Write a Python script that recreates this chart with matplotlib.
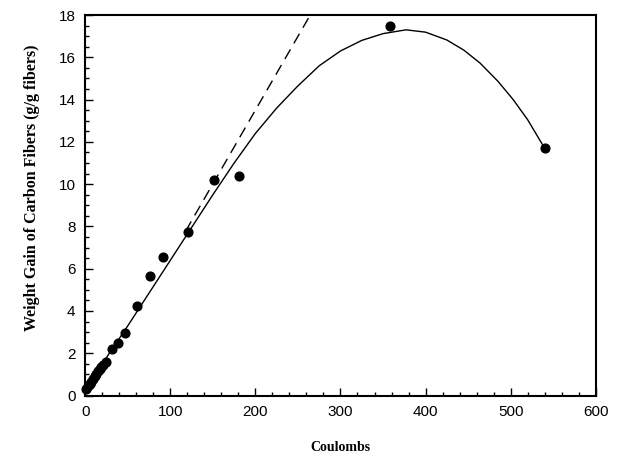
import matplotlib
matplotlib.use("Agg")
import matplotlib.pyplot as plt
from matplotlib.ticker import MultipleLocator

# measured points
coulombs = [1, 3, 5, 7, 9, 11, 13, 15, 17, 19, 21, 24,
            31, 38, 47, 61, 76, 91, 121, 151, 181, 358, 540]
gain = [0.3, 0.45, 0.55, 0.65, 0.8, 0.9, 1.0, 1.15, 1.25, 1.35, 1.45, 1.6,
        2.2, 2.48, 2.96, 4.25, 5.65, 6.54, 7.75, 10.19, 10.4, 17.48, 11.7]

# solid fitted curve
fit_x = [0, 25, 50, 75, 100, 125, 150, 175, 200, 225, 250, 275, 300, 325,
         350, 377, 400, 425, 445, 464, 485, 503, 520, 540]
fit_y = [0.25, 1.8, 3.3, 4.85, 6.4, 7.95, 9.5, 11.0, 12.4, 13.6, 14.65, 15.6, 16.3, 16.8,
         17.12, 17.3, 17.19, 16.82, 16.34, 15.73, 14.87, 14.0, 13.05, 11.7]

# dashed linear extrapolation
lin_x = [118, 264]
lin_y = [7.78, 17.97]

fig = plt.figure(figsize=(6.24, 4.70), dpi=100)
ax = fig.add_axes([0.1367, 0.1585, 0.8179, 0.8095])

ax.plot(fit_x, fit_y, color="black", lw=1.0)
ax.plot(lin_x, lin_y, color="black", lw=1.0, ls=(0, (8, 5)))
ax.plot(coulombs, gain, "o", color="black", ms=6.3, clip_on=False)

ax.set_xlim(0, 600)
ax.set_ylim(0, 18)
ax.xaxis.set_major_locator(MultipleLocator(100))
ax.xaxis.set_minor_locator(MultipleLocator(20))
ax.yaxis.set_major_locator(MultipleLocator(2))
ax.yaxis.set_minor_locator(MultipleLocator(0.5))
ax.tick_params(which="both", direction="in", top=False, right=False,
               labelsize=11, width=1.0)
ax.tick_params(which="major", length=6, pad=7)
ax.tick_params(which="minor", length=3)
for lab in ax.get_xticklabels() + ax.get_yticklabels():
    lab.set_family("Liberation Sans")
for sp in ax.spines.values():
    sp.set_linewidth(1.5)

ax.set_xlabel("Coulombs", family="Liberation Serif", fontweight="bold",
              fontsize=10, labelpad=16)
ax.set_ylabel("Weight Gain of Carbon Fibers (g/g fibers)", family="Liberation Serif",
              fontweight="bold", fontsize=11.5)
ax.yaxis.set_label_coords(-0.089, 0.545)

plt.savefig("out.png", dpi=100)
